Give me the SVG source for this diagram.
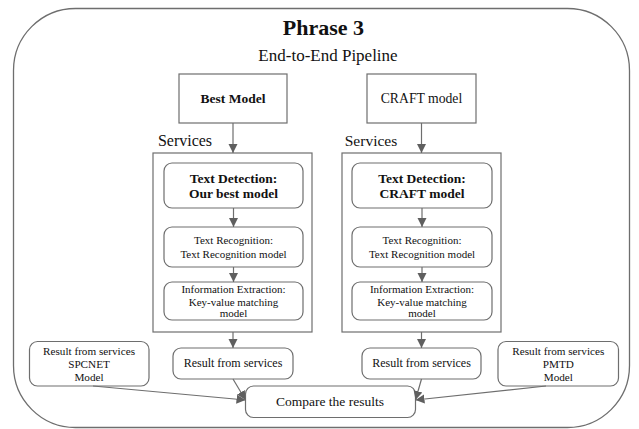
<svg xmlns="http://www.w3.org/2000/svg" width="639" height="429" viewBox="0 0 639 429">
<defs>
<style>
.box{fill:#fff;stroke:#6e6e6e;stroke-width:1.2}
.t{font-family:"Liberation Serif","Times New Roman",serif;fill:#111;text-anchor:middle}
.b{font-weight:bold}
.ln{stroke:#6e6e6e;stroke-width:1.2;fill:none}
</style>
<marker id="ah" markerUnits="userSpaceOnUse" markerWidth="10" markerHeight="10" refX="9" refY="5" orient="auto" viewBox="0 0 10 10">
<path d="M0,0.5 L9,5 L0,9.5 z" fill="#5f5f5f"/>
</marker>
</defs>
<rect width="639" height="429" fill="#fff"/>
<g id="frame">
<rect x="13.5" y="8.5" width="616" height="419" rx="62" ry="62" fill="none" stroke="#6e6e6e" stroke-width="1.3"/>
<text class="t b" x="323.5" y="35" font-size="22">Phrase 3</text>
<text class="t" x="328" y="61" font-size="17">End-to-End Pipeline</text>
</g>
<g id="best-model">
<rect class="box" x="179" y="74" width="108" height="49"/>
<text class="t b" x="233" y="103" font-size="13.5">Best Model</text>
</g>
<g id="craft-model">
<rect class="box" x="367" y="74" width="109" height="49"/>
<text class="t" x="421.5" y="103" font-size="13.7">CRAFT model</text>
</g>
<g id="services-left">
<text class="t" x="185" y="146" font-size="16">Services</text>
<rect class="box" x="153" y="153" width="159" height="179"/>
</g>
<g id="services-right">
<text class="t" x="371" y="146" font-size="15.5">Services</text>
<rect class="box" x="342" y="153" width="159" height="179"/>
</g>
<g id="td-left">
<rect class="box" x="164" y="163" width="139" height="45" rx="8"/>
<text class="t b" x="233.5" y="182.5" font-size="13.5">Text Detection:</text>
<text class="t b" x="233.5" y="198.3" font-size="13.5">Our best model</text>
</g>
<g id="tr-left">
<rect class="box" x="164" y="227" width="139" height="40" rx="8"/>
<text class="t" x="233.5" y="244" font-size="11">Text Recognition:</text>
<text class="t" x="233.5" y="257.5" font-size="11">Text Recognition model</text>
</g>
<g id="ie-left">
<rect class="box" x="164" y="282" width="139" height="38" rx="8"/>
<text class="t" x="233.5" y="292.5" font-size="11">Information Extraction:</text>
<text class="t" x="233.5" y="305.5" font-size="11">Key-value matching</text>
<text class="t" x="233.5" y="317" font-size="11">model</text>
</g>
<g id="td-right">
<rect class="box" x="352" y="163" width="140" height="45" rx="8"/>
<text class="t b" x="422" y="182.5" font-size="13.5">Text Detection:</text>
<text class="t b" x="422" y="198.3" font-size="13.5">CRAFT model</text>
</g>
<g id="tr-right">
<rect class="box" x="352" y="227" width="140" height="40" rx="8"/>
<text class="t" x="422" y="244" font-size="11">Text Recognition:</text>
<text class="t" x="422" y="257.5" font-size="11">Text Recognition model</text>
</g>
<g id="ie-right">
<rect class="box" x="352" y="282" width="140" height="38" rx="8"/>
<text class="t" x="422" y="292.5" font-size="11">Information Extraction:</text>
<text class="t" x="422" y="305.5" font-size="11">Key-value matching</text>
<text class="t" x="422" y="317" font-size="11">model</text>
</g>
<g id="result-spcnet">
<rect class="box" x="29.5" y="341.5" width="119.5" height="44.5" rx="8"/>
<text class="t" x="89" y="355" font-size="11.2">Result from services</text>
<text class="t" x="89" y="368" font-size="11.2">SPCNET</text>
<text class="t" x="89" y="381" font-size="11.2">Model</text>
</g>
<g id="result-left">
<rect class="box" x="173" y="348" width="120" height="31" rx="8"/>
<text class="t" x="233" y="367" font-size="12">Result from services</text>
</g>
<g id="result-right">
<rect class="box" x="362" y="348" width="119" height="31" rx="8"/>
<text class="t" x="421.5" y="367" font-size="12">Result from services</text>
</g>
<g id="result-pmtd">
<rect class="box" x="498" y="341.5" width="120.5" height="44.5" rx="8"/>
<text class="t" x="558.3" y="355" font-size="11.2">Result from services</text>
<text class="t" x="558.3" y="368" font-size="11.2">PMTD</text>
<text class="t" x="558.3" y="381" font-size="11.2">Model</text>
</g>
<g id="compare">
<rect class="box" x="245.5" y="386" width="170" height="31.5" rx="8"/>
<text class="t" x="330" y="406" font-size="13.5">Compare the results</text>
</g>
<g id="connectors">
<line class="ln" x1="233" y1="123" x2="233" y2="153" marker-end="url(#ah)"/>
<line class="ln" x1="421.5" y1="123" x2="421.5" y2="153" marker-end="url(#ah)"/>
<line class="ln" x1="233.5" y1="208" x2="233.5" y2="227" marker-end="url(#ah)"/>
<line class="ln" x1="233.5" y1="267" x2="233.5" y2="282" marker-end="url(#ah)"/>
<line class="ln" x1="422" y1="208" x2="422" y2="227" marker-end="url(#ah)"/>
<line class="ln" x1="422" y1="267" x2="422" y2="282" marker-end="url(#ah)"/>
<line class="ln" x1="233" y1="332" x2="233" y2="348" marker-end="url(#ah)"/>
<line class="ln" x1="421.5" y1="332" x2="421.5" y2="348" marker-end="url(#ah)"/>
<line class="ln" x1="233" y1="379" x2="245.5" y2="400" marker-end="url(#ah)"/>
<line class="ln" x1="93" y1="386" x2="245.5" y2="400" marker-end="url(#ah)"/>
<line class="ln" x1="421.5" y1="379" x2="415.5" y2="400" marker-end="url(#ah)"/>
<line class="ln" x1="546" y1="386" x2="415.5" y2="400" marker-end="url(#ah)"/>
</g>
</svg>
